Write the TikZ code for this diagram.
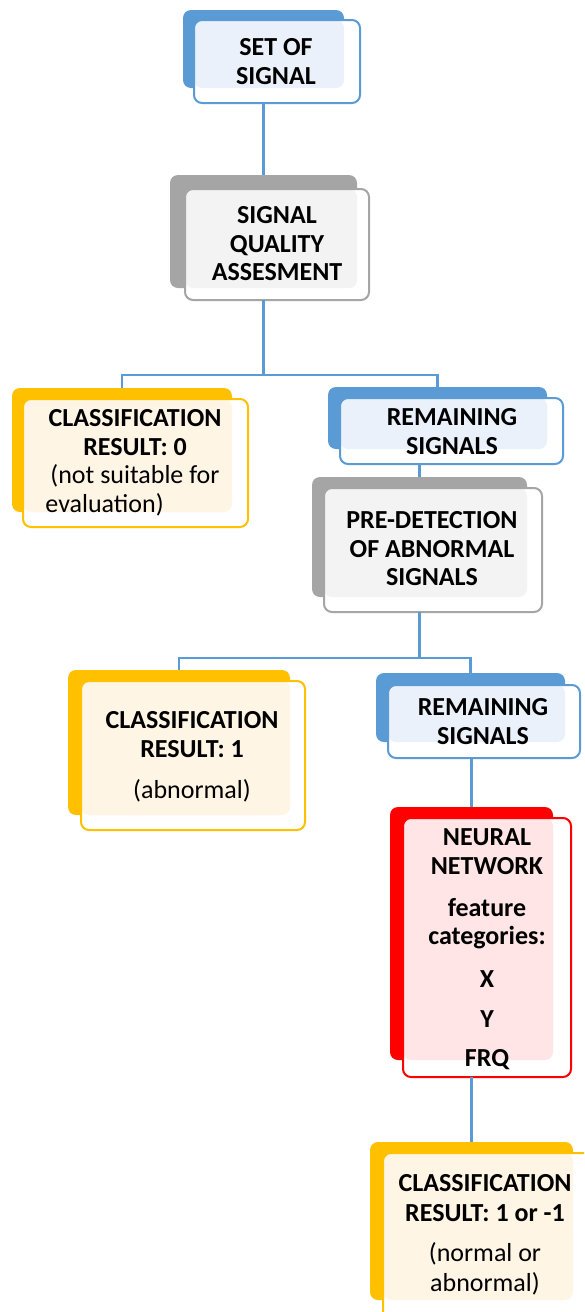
\documentclass[tikz,border=0pt]{standalone}
\usepackage{fontspec}
\setmainfont{Carlito}
\usetikzlibrary{fit}
\definecolor{cblue}{HTML}{5B9BD5}
\definecolor{tblue}{HTML}{EAF1FA}
\definecolor{cgray}{HTML}{A5A5A5}
\definecolor{tgray}{HTML}{F3F3F3}
\definecolor{cgold}{HTML}{FFC000}
\definecolor{tgold}{HTML}{FFF5E5}
\definecolor{cred}{HTML}{FF0000}
\definecolor{tred}{HTML}{FFE5E5}
\newcommand\fl{\rule{0pt}{17pt}}
\newcommand\blk[7]{%
  \coordinate (#1bnw) at #4; \coordinate (#1bse) at #5;
  \coordinate (#1fnw) at #6; \coordinate (#1fse) at #7;
  \node[fit=(#1bnw)(#1bse), backbox, fill=#2] (#1) {};
  \node[fit=(#1fnw)(#1fse), backbox, fill=white] (#1f) {};
  \fill[#3, rounded corners=8pt] (#1fnw) rectangle (#1bse);
  \draw[#2, line width=2pt, rounded corners=8pt] (#1fnw) rectangle (#1fse);
}
\tikzset{
  backbox/.style={inner sep=0pt, rounded corners=8pt, draw=none},
  txt/.style={align=center, inner sep=0pt, anchor=north, font=\fontsize{26}{28.5}\selectfont\bfseries},
  conn/.style={draw=cblue, line width=2.4pt},
}
\begin{document}
\begin{tikzpicture}[x=1pt,y=-1pt]
\clip (0,0) rectangle (584,1312);
\fill[white] (0,0) rectangle (584,1312);

\blk{n1}{cblue}{tblue}{(183,10)}{(344,88)}{(194,20)}{(360,103)}
\blk{n2}{cgray}{tgray}{(170,175)}{(357,288)}{(185,189)}{(369,300)}
\blk{n3}{cgold}{tgold}{(12,388)}{(232,512)}{(23,399)}{(248,527)}
\blk{n4}{cblue}{tblue}{(328,387)}{(547,449)}{(340,398)}{(563,464)}
\blk{n5}{cgray}{tgray}{(312,477)}{(527,597)}{(324,488)}{(542,612)}
\blk{n6}{cgold}{tgold}{(68,670)}{(290,815)}{(81,681)}{(305,830)}
\blk{n7}{cblue}{tblue}{(376,673)}{(565,742)}{(388,685)}{(580,758)}
\blk{n8}{cred}{tred}{(390,807)}{(553,1060)}{(403,818)}{(571,1077)}
\blk{n9}{cgold}{tgold}{(370,1142)}{(573,1300)}{(383,1153)}{(592,1320)}

\node[txt] (t1) at (276,38.35) {\fl SET OF\\SIGNAL};
\node[txt] (t2) at (277,206.35) {\fl SIGNAL\\QUALITY\\ASSESMENT};
\node[txt] (t3) at (135,409.35) {\fl CLASSIFICATION\\RESULT: 0\\{\mdseries (not suitable for}\\{\mdseries \rlap{\hspace{-5pt}evaluation)}\hphantom{(not suitable for}}};
\node[txt] (t4) at (452,408.35) {\fl REMAINING\\SIGNALS};
\node[txt] (t5) at (432,511.35) {\fl PRE-DETECTION\\OF ABNORMAL\\SIGNALS};
\node[txt] (t6) at (192,711.35) {\fl CLASSIFICATION\\RESULT: 1\\[13pt]{\mdseries (abnormal)}};
\node[txt] (t7) at (483,698.35) {\fl REMAINING\\SIGNALS};
\node[txt] (t8) at (487,828.35) {\fl NEURAL\\NETWORK\\[13.5pt]feature\\categories:\\[14.5pt]X\\[11.5pt]Y\\[10.5pt]FRQ};
\node[txt] (t9) at (485,1174.35) {\fl CLASSIFICATION\\[1.5pt]RESULT: 1 or -1\\[11.5pt]{\mdseries (normal or}\\[1.5pt]{\mdseries abnormal)}};

\coordinate (j1) at (n2 |- 0,375);
\coordinate (j2) at (n5 |- 0,658);
\draw[conn] (n1 |- n1f.south) -- (n2.north);
\draw[conn] (n2 |- n2f.south) -- (j1);
\draw[conn] (n3.north) |- (j1) -| (n4.north);
\draw[conn] (n5 |- n4f.south) -- (n5.north);
\draw[conn] (n5 |- n5f.south) -- (j2);
\draw[conn] (n6.north) |- (j2) -| (n7.north);
\draw[conn] (n8 |- n7f.south) -- (n8.north);
\draw[conn] (n9 |- n8f.south) -- (n9.north);
\end{tikzpicture}
\end{document}
